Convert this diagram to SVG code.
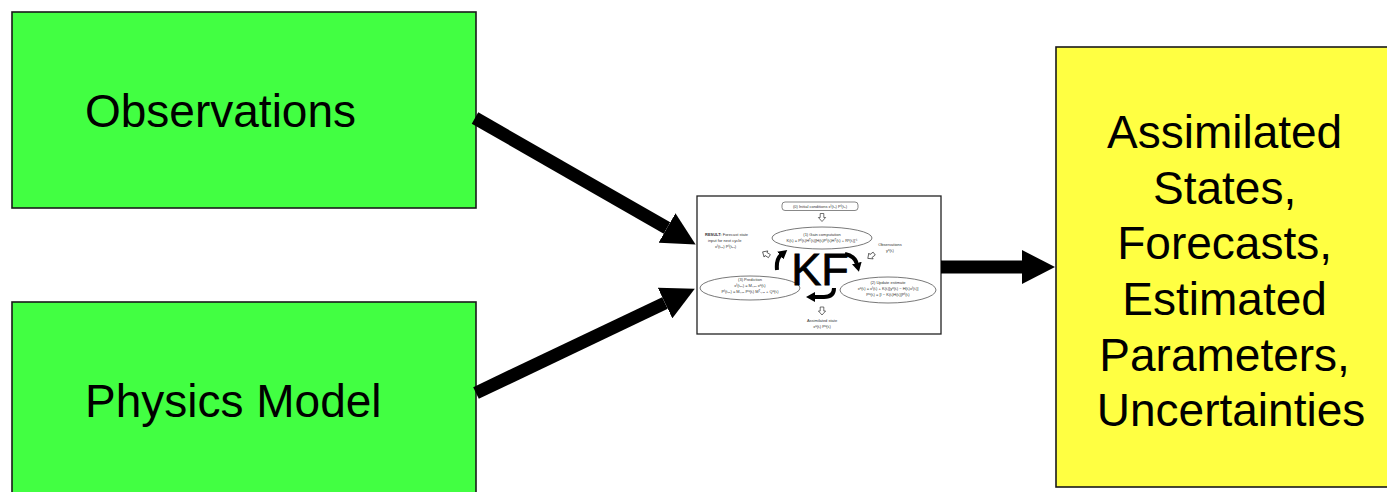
<svg xmlns="http://www.w3.org/2000/svg" width="1387" height="492" viewBox="0 0 1387 492">
  <style>
    .box { stroke: #1a1a1a; stroke-width: 1.6; }
    .green { fill: #42FF42; }
    .yellow { fill: #FFFF42; }
    .big { font-family: "Liberation Sans", Arial, sans-serif; font-size: 46px; fill: #000; }
    .link { stroke: #000; stroke-width: 13; fill: none; }
    .tiny { font-family: "Liberation Sans", Arial, sans-serif; font-size: 4px; fill: #333; }
    .oval { fill: #fff; stroke: #555; stroke-width: 0.8; }
    .hollow { fill: #fff; stroke: #333; stroke-width: 0.7; }
    .loop { stroke: #000; stroke-width: 4; fill: none; }
  </style>
  <defs>
    <marker id="head" markerUnits="userSpaceOnUse" markerWidth="34" markerHeight="34" refX="0" refY="17" orient="auto">
      <path d="M0,0 L33,17 L0,34 Z" fill="#000"/>
    </marker>
    <marker id="minihead" markerUnits="userSpaceOnUse" markerWidth="9" markerHeight="10" refX="1" refY="5" orient="auto">
      <path d="M0,0 L9,5 L0,10 Z" fill="#000"/>
    </marker>
    <!-- small outlined block arrow, pointing down -->
    <path id="hollowArrow" class="hollow" d="M-1.8,-4 H1.8 V0 H3.6 L0,4 L-3.6,0 H-1.8 Z"/>
  </defs>

  <g id="observations">
    <rect class="box green" x="12" y="12" width="464" height="196"/>
    <text class="big" x="85" y="127">Observations</text>
  </g>

  <g id="physics-model">
    <rect class="box green" x="12" y="302" width="464" height="200"/>
    <text class="big" x="85" y="417">Physics Model</text>
  </g>

  <g id="kalman-filter">
    <rect x="697" y="196" width="244" height="138" fill="#fff" stroke="#222" stroke-width="1.3"/>
    <!-- (0) initial conditions -->
    <rect x="782" y="202" width="76" height="8.5" rx="3" fill="#fff" stroke="#555" stroke-width="0.7"/>
    <text class="tiny" x="820" y="207.6" text-anchor="middle">(0) Initial conditions  xᶠ(t₀)  Pᶠ(t₀)</text>
    <use href="#hollowArrow" x="822" y="217.5"/>
    <!-- (1) gain computation -->
    <ellipse class="oval" cx="822" cy="238" rx="50" ry="11"/>
    <text class="tiny" x="822" y="235.5" text-anchor="middle">(1) Gain computation</text>
    <text class="tiny" x="822" y="241.5" text-anchor="middle">K(tᵢ) = Pᶠ(tᵢ)Hᵀ(tᵢ)[H(tᵢ)Pᶠ(tᵢ)Hᵀ(tᵢ) + Rᵒ(tᵢ)]⁻¹</text>
    <!-- forecast result -->
    <text class="tiny" x="705" y="236"><tspan font-weight="bold">RESULT:</tspan> Forecast state</text>
    <text class="tiny" x="708" y="241.5">input for next cycle</text>
    <text class="tiny" x="715" y="248">xᶠ(tᵢ₊₁)  Pᶠ(tᵢ₊₁)</text>
    <use href="#hollowArrow" transform="translate(766,254) rotate(122)"/>
    <!-- observations input -->
    <text class="tiny" x="890" y="246" text-anchor="middle">Observations</text>
    <text class="tiny" x="890" y="251.5" text-anchor="middle">yᵒ(tᵢ)</text>
    <use href="#hollowArrow" transform="translate(871,256) rotate(53)"/>
    <!-- (3) prediction -->
    <ellipse class="oval" cx="750" cy="288" rx="50" ry="12"/>
    <text class="tiny" x="750" y="281" text-anchor="middle">(3) Prediction</text>
    <text class="tiny" x="750" y="287" text-anchor="middle">xᶠ(tᵢ₊₁) = Mᵢ,ᵢ₊₁ xᵃ(tᵢ)</text>
    <text class="tiny" x="750" y="293" text-anchor="middle">Pᶠ(tᵢ₊₁) = Mᵢ,ᵢ₊₁ Pᵃ(tᵢ) Mᵀᵢ,ᵢ₊₁ + Qᵃ(tᵢ)</text>
    <!-- (2) update estimate -->
    <ellipse class="oval" cx="888" cy="290" rx="48" ry="13"/>
    <text class="tiny" x="888" y="283.5" text-anchor="middle">(2) Update estimate</text>
    <text class="tiny" x="888" y="289.5" text-anchor="middle">xᵃ(tᵢ) = xᶠ(tᵢ) + K(tᵢ)[yᵒ(tᵢ) − H(tᵢ)xᶠ(tᵢ)]</text>
    <text class="tiny" x="888" y="296" text-anchor="middle">Pᵃ(tᵢ) = [I − K(tᵢ)H(tᵢ)]Pᶠ(tᵢ)</text>
    <!-- assimilated output -->
    <use href="#hollowArrow" x="822" y="311"/>
    <text class="tiny" x="822" y="321.5" text-anchor="middle">Assimilated state</text>
    <text class="tiny" x="822" y="328" text-anchor="middle">xᵃ(tᵢ)  Pᵃ(tᵢ)</text>
    <!-- cycle arrows around the KF label -->
    <path class="loop" d="M777,270 Q776,259 781,255" marker-end="url(#minihead)"/>
    <path class="loop" d="M845,254 Q855,256 857,264" marker-end="url(#minihead)"/>
    <path class="loop" d="M834,288 Q834,297 824,297 L814,297" marker-end="url(#minihead)"/>
    <text x="820" y="285" text-anchor="middle" font-family="Liberation Sans, Arial, sans-serif" font-size="45" fill="#000" stroke="#000" stroke-width="0.8">KF</text>
  </g>

  <g id="results">
    <rect class="box yellow" x="1056" y="47" width="340" height="440"/>
    <text class="big" text-anchor="middle">
      <tspan x="1231" y="148">Assimilated</tspan>
      <tspan x="1231" y="204">States,</tspan>
      <tspan x="1231" y="259">Forecasts,</tspan>
      <tspan x="1231" y="315">Estimated</tspan>
      <tspan x="1231" y="371">Parameters,</tspan>
      <tspan x="1231" y="426">Uncertainties</tspan>
    </text>
  </g>

  <g id="connectors">
    <line class="link" x1="475" y1="118" x2="667" y2="228" marker-end="url(#head)"/>
    <line class="link" x1="476" y1="393" x2="665" y2="303" marker-end="url(#head)"/>
    <line class="link" x1="941" y1="267" x2="1022" y2="267" marker-end="url(#head)"/>
  </g>
</svg>
